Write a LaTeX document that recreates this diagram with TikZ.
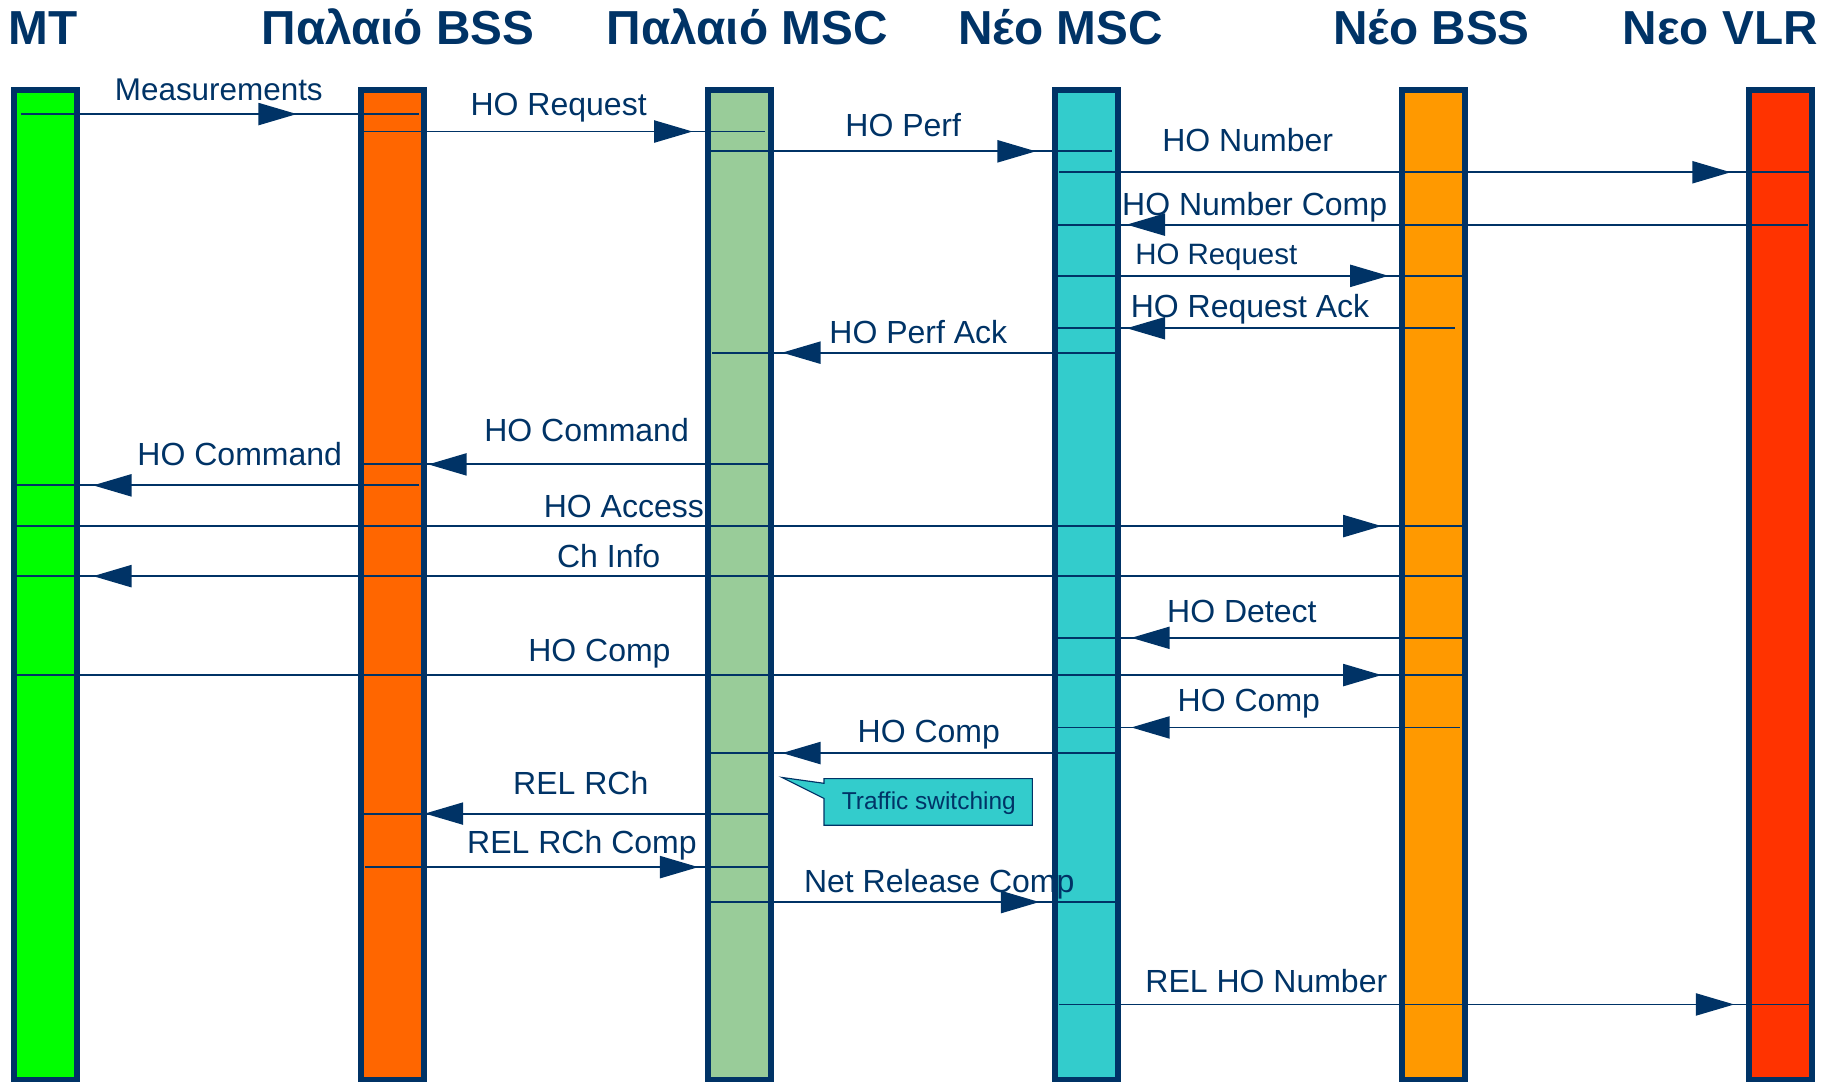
\documentclass[tikz,border=0pt]{standalone}
\usepackage{fontspec}
\setmainfont{Liberation Sans}
\usetikzlibrary{arrows.meta}
\definecolor{navy}{HTML}{003366}
\definecolor{cMT}{HTML}{00FF00}
\definecolor{cOBSS}{HTML}{FF6600}
\definecolor{cOMSC}{HTML}{99CC99}
\definecolor{cNMSC}{HTML}{33CCCC}
\definecolor{cNBSS}{HTML}{FF9900}
\definecolor{cVLR}{HTML}{FF3300}
\begin{document}
\begin{tikzpicture}[x=1pt,y=-1pt,
  lifebar/.style={draw=navy,line width=5pt,minimum width=54pt,minimum height=850pt,inner sep=0pt},
  heading/.style={text=navy,font=\fontsize{41}{46}\selectfont\bfseries,anchor=base,inner sep=0pt},
  msgline/.style={draw=navy,line width=1.6pt},
  msgtip/.style={msgline,-{Triangle[length=33pt,width=19pt]}},
  msglabel/.style={text=navy,anchor=base,inner sep=0pt},
  calloutbox/.style={fill=cNMSC,draw=navy,line width=1pt,line join=miter}]
\useasboundingbox (0,0) rectangle (1568,929);

% lifelines
\foreach \nm/\cx/\col in {mt/39/cMT, obss/337.5/cOBSS, omsc/635.5/cOMSC,
                          nmsc/933.5/cNMSC, nbss/1231.5/cNBSS, vlr/1529.5/cVLR}
  \node[lifebar,fill=\col] (\nm) at (\cx,502.5) {};

% headings
\node[heading] (h-mt)   at (37,38)   {MT};
\node[heading] (h-obss) at (342,38)  {Παλαιό BSS};
\node[heading] (h-omsc) at (642,38)  {Παλαιό MSC};
\node[heading] (h-nmsc) at (911,38)  {Νέο MSC};
\node[heading] (h-nbss) at (1230,38) {Νέο BSS};
\node[heading] (h-vlr)  at (1478,38) {Νεο VLR};

% messages: name / y / start x / end x / tip x / text / label x / label baseline / size
\foreach \n/\y/\a/\b/\t/\lab/\lx/\ly/\fs in {
  m1/98/18/360/255/Measurements/188/86/27,
  m2/113/312/657/595/HO Request/480/99/27.5,
  m3/130/610/955/890/HO Perf/776/117/27.5,
  m4/148/910/1556/1487/HO Number/1072/130/27.5,
  m5/193/1553/908/968/HO Number Comp/1078/185/27.5,
  m6/237/908/1256/1193/HO Request/1045/227/25.3,
  m7/282/1250/908/968/HO Request Ack/1074/273/27.5,
  m8/303/958/612/672/HO Perf Ack/789/295/27.5,
  m9/399/660/312/368/HO Command/504/379/27.5,
  m10/417/360/14/80/HO Command/206/400/27.5,
  m11/452/14/1256/1187/HO Access/536/445/27.5,
  m12/495/1256/14/80/Ch Info/523/488/27.5,
  m13/548/1256/908/972/HO Detect/1067/535/27.5,
  m14/580/14/1256/1187/HO Comp/515/568/27.5,
  m15/625/1254/908/972/HO Comp/1073/611/27.5,
  m16/647/958/610/672/HO Comp/798/638/27.5,
  m17/699/660/312/365/REL RCh/499/683/27.5,
  m18/745/314/662/600/REL RCh Comp/500/733/27.5,
  m19/775/610/960/893/Net Release Comp/807/767/27.5,
  m20/863/910/1556/1490/REL HO Number/1088/853/27.5}{
  \coordinate (\n-s) at (\a,\y);
  \coordinate (\n-e) at (\b,\y);
  \coordinate (\n-t) at (\t,\y);
  \draw[msgline] (\n-s) -- (\n-e);
  \draw[msgtip] (\n-s) -- (\n-t);
  \node[msglabel,font=\fontsize{\fs}{\fs}\selectfont] (\n-l) at (\lx,\ly) {\lab};
}

% speech-bubble note
\draw[calloutbox] (708,669) -- (887,669) -- (887,709) -- (708,709) -- (708,686)
  -- (672,668) -- (708,673) -- cycle;
\node[text=navy,font=\fontsize{21}{21}\selectfont,inner sep=0pt] (ts) at (798,690) {Traffic switching};
\end{tikzpicture}
\end{document}
